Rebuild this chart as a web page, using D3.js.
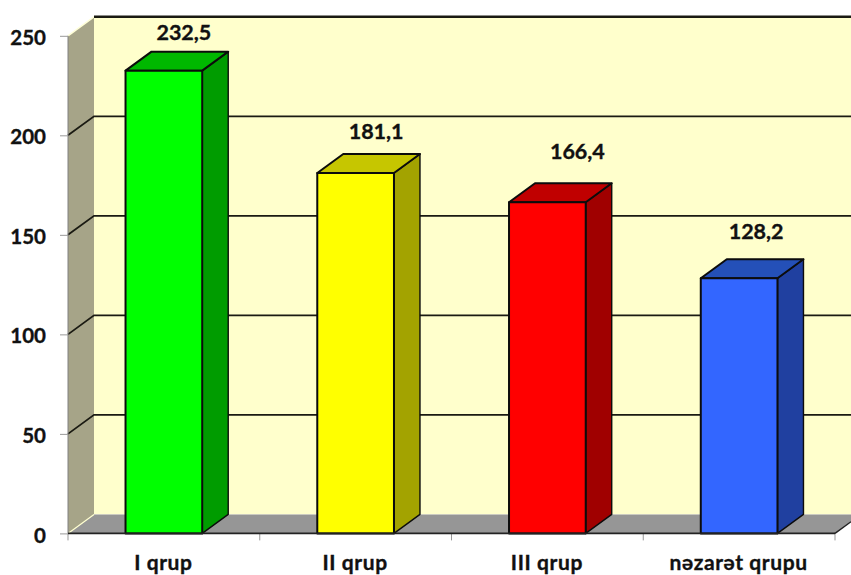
<!DOCTYPE html>
<html>
<head>
<meta charset="utf-8">
<script src="https://cdn.jsdelivr.net/npm/d3@7"></script>
<style>
html,body{margin:0;padding:0;background:#fff}
svg{display:block}
text{font-family:Lato,"Open Sans",sans-serif;font-weight:700;fill:#111;stroke:#111;stroke-width:0.35px}
</style>
</head>
<body>
<svg id="chart" width="851" height="575"></svg>
<script>
// Group means, shown as 3D columns
const categories = ["I qrup", "II qrup", "III qrup", "nəzarət qrupu"];
const values = [232.5, 181.1, 166.4, 128.2];
const valueLabels = ["232,5", "181,1", "166,4", "128,2"];
const yTicks = [0, 50, 100, 150, 200, 250];
const frontColors = ["#00ff00", "#ffff00", "#ff0000", "#3366ff"];
const topColors = ["#00b800", "#c6c600", "#c00000", "#2450b8"];
const sideColors = ["#009c00", "#a3a300", "#a00000", "#2040a0"];

const svg = d3.select("#chart");
const depthX = 26, depthY = -19;

const x = d3.scaleBand().domain(categories).range([68, 835]).paddingInner(0.6).paddingOuter(0.3);
const y = d3.scaleLinear().domain([0, 250]).range([533.4, 35.8]);
const band = d3.scaleBand().domain(categories).range([68, 835]);

const poly = pts => pts.map(p => p.join(",")).join(" ");
const x0 = x.range()[0], x1 = x.range()[1];
const yBase = y(0), yTop = y(250);
const floorEdgeY = yBase + depthY * (851 - x1) / depthX;

// Back wall, running off to the right edge of the page
svg.append("rect")
  .attr("x", x0 + depthX).attr("y", yTop + depthY)
  .attr("width", 851 - x0 - depthX).attr("height", yBase - yTop)
  .attr("fill", "#ffffcc");

// Left wall
svg.append("polygon")
  .attr("points", poly([[x0, yTop], [x0 + depthX, yTop + depthY], [x0 + depthX, yBase + depthY], [x0, yBase]]))
  .attr("fill", "#a6a488");
svg.append("line")
  .attr("x1", x0).attr("y1", yTop).attr("x2", x0 + depthX).attr("y2", yTop + depthY)
  .attr("stroke", "#ffffd8").attr("stroke-width", 1.5);

// Floor
svg.append("polygon")
  .attr("points", poly([[x0, yBase], [x0 + depthX, yBase + depthY], [851, yBase + depthY], [851, floorEdgeY], [x1, yBase]]))
  .attr("fill", "#969696");
svg.append("line")
  .attr("x1", x0).attr("y1", yBase).attr("x2", x0 + depthX).attr("y2", yBase + depthY)
  .attr("stroke", "#ffffd0").attr("stroke-width", 1.2);

// Gridlines: slanted on the side wall, level across the back wall
const inner = yTicks.filter(t => t > 0 && t < 250);
svg.append("g").selectAll("path").data(inner).join("path")
  .attr("d", t => `M${x0},${y(t)}L${x0 + depthX},${y(t) + depthY}L851,${y(t) + depthY}`)
  .attr("fill", "none").attr("stroke", "#1a1a12").attr("stroke-width", 1.8);
svg.append("line")
  .attr("x1", x0 + depthX).attr("y1", yTop + depthY).attr("x2", 851).attr("y2", yTop + depthY)
  .attr("stroke", "#1a1a12").attr("stroke-width", 2.4);

// Y axis
const yAxis = d3.axisLeft(y).tickValues(yTicks).tickSize(8).tickPadding(14);
const gy = svg.append("g").attr("transform", `translate(${x0},0)`).call(yAxis);
gy.select(".domain").attr("stroke", "#808080").attr("stroke-width", 1).attr("d", `M0,${yTop}V${yBase}`);
gy.selectAll(".tick line").attr("stroke", "#999");
gy.selectAll("text").style("font-size", "20.5px").attr("fill", "#111").attr("dy", "0.42em");

// X axis with ticks on the band boundaries
const gx = svg.append("g");
gx.selectAll("line.tick").data([...band.domain().map(c => band(c)), x1]).join("line")
  .attr("x1", d => d).attr("x2", d => d).attr("y1", yBase).attr("y2", yBase + 7)
  .attr("stroke", "#999");
gx.selectAll("text").data(categories).join("text")
  .attr("x", c => x(c) + x.bandwidth() / 2 - 0.5)
  .attr("y", yBase + 37)
  .attr("text-anchor", "middle")
  .style("font-size", "21px")
  .style("letter-spacing", "0.6px")
  .text(c => c);

// Columns: side and top faces first, then the front
const bars = svg.append("g").selectAll("g").data(categories).join("g");
const faceStroke = g => g.attr("stroke", "#0c0c0c").attr("stroke-width", 2).attr("stroke-linejoin", "round");

bars.append("polygon")
  .attr("points", (c, i) => {
    const r = x(c) + x.bandwidth(), t = y(values[i]);
    return poly([[r, t], [r + depthX, t + depthY], [r + depthX, yBase + depthY], [r, yBase]]);
  })
  .attr("fill", (c, i) => sideColors[i]).call(faceStroke).attr("stroke-width", 1.4);
bars.append("polygon")
  .attr("points", (c, i) => {
    const l = x(c), r = l + x.bandwidth(), t = y(values[i]);
    return poly([[l, t], [l + depthX, t + depthY], [r + depthX, t + depthY], [r, t]]);
  })
  .attr("fill", (c, i) => topColors[i]).call(faceStroke);
bars.append("rect")
  .attr("x", c => x(c))
  .attr("y", (c, i) => y(values[i]))
  .attr("width", x.bandwidth())
  .attr("height", (c, i) => yBase - y(values[i]))
  .attr("fill", (c, i) => frontColors[i]).call(faceStroke);

// Baseline across the front of the floor
svg.append("line")
  .attr("x1", x0).attr("y1", yBase).attr("x2", x1).attr("y2", yBase)
  .attr("stroke", "#222").attr("stroke-width", 1.8);
svg.append("line")
  .attr("x1", x1).attr("y1", yBase).attr("x2", 851).attr("y2", floorEdgeY)
  .attr("stroke", "#222").attr("stroke-width", 1.4);

// Value labels, hand-placed above each column
const labelShift = [[20, -30.5], [20.5, -33.5], [30, -43.5], [17, -39.5]];
svg.append("g").selectAll("text").data(categories).join("text")
  .attr("x", (c, i) => x(c) + x.bandwidth() / 2 + labelShift[i][0])
  .attr("y", (c, i) => y(values[i]) + labelShift[i][1])
  .attr("text-anchor", "middle")
  .style("font-size", "21.5px")
  .text((c, i) => valueLabels[i]);
</script>
</body>
</html>
